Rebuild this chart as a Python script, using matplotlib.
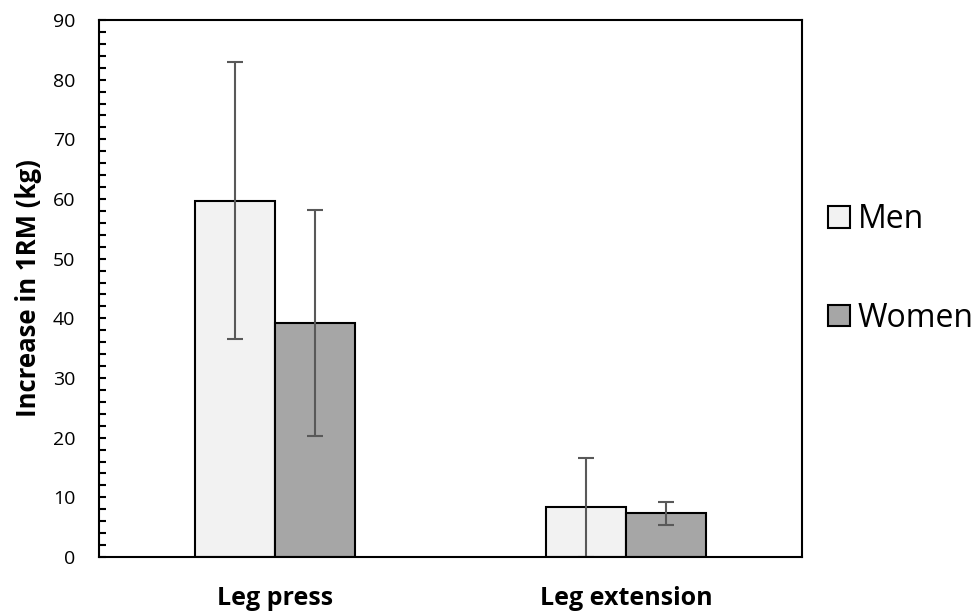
import numpy as np
import matplotlib.pyplot as plt
from matplotlib.ticker import MultipleLocator

plt.rcParams['font.family'] = ['Open Sans', 'DejaVu Sans']

# data
exercises = ['Leg press', 'Leg extension']
men_mean = [59.7, 8.3]
men_sd = [23.2, 8.3]
women_mean = [39.2, 7.3]
women_sd = [19.0, 1.9]

fig = plt.figure(figsize=(9.79, 6.14), dpi=100)
ax = fig.add_axes([0.1011, 0.0928, 0.7181, 0.8746])

x = np.arange(len(exercises))
w = 0.228
err_kw = dict(ecolor='#595959', elinewidth=1.5, capsize=6, capthick=1.5)
ax.bar(x - w / 2, men_mean, w, yerr=men_sd, color='#f2f2f2', edgecolor='black',
       linewidth=1.5, label='Men', error_kw=err_kw, zorder=2)
ax.bar(x + w / 2, women_mean, w, yerr=women_sd, color='#a6a6a6', edgecolor='black',
       linewidth=1.5, label='Women', error_kw=err_kw, zorder=2)

ax.set_xlim(-0.5, 1.5)
ax.set_ylim(0, 90)
ax.set_xticks(x)
ax.set_xticklabels(exercises, fontsize=18, fontweight='bold')
ax.tick_params(axis='x', length=0, pad=21)
ax.yaxis.set_major_locator(MultipleLocator(10))
ax.yaxis.set_minor_locator(MultipleLocator(2))
ax.tick_params(axis='y', which='both', direction='in', length=5, width=1.5,
               labelsize=14, pad=17)
for s in ax.spines.values():
    s.set_linewidth(1.5)
ax.set_ylabel('Increase in 1RM (kg)', fontsize=18.5, fontweight='bold', labelpad=8)

ax.legend(loc='center left', bbox_to_anchor=(0.8458, 0.562), bbox_transform=fig.transFigure,
          frameon=False, fontsize=23, handlelength=0.68, handleheight=0.68,
          handletextpad=0.25, labelspacing=2.05, borderpad=0, borderaxespad=0)

fig.savefig('out.png', dpi=100)
